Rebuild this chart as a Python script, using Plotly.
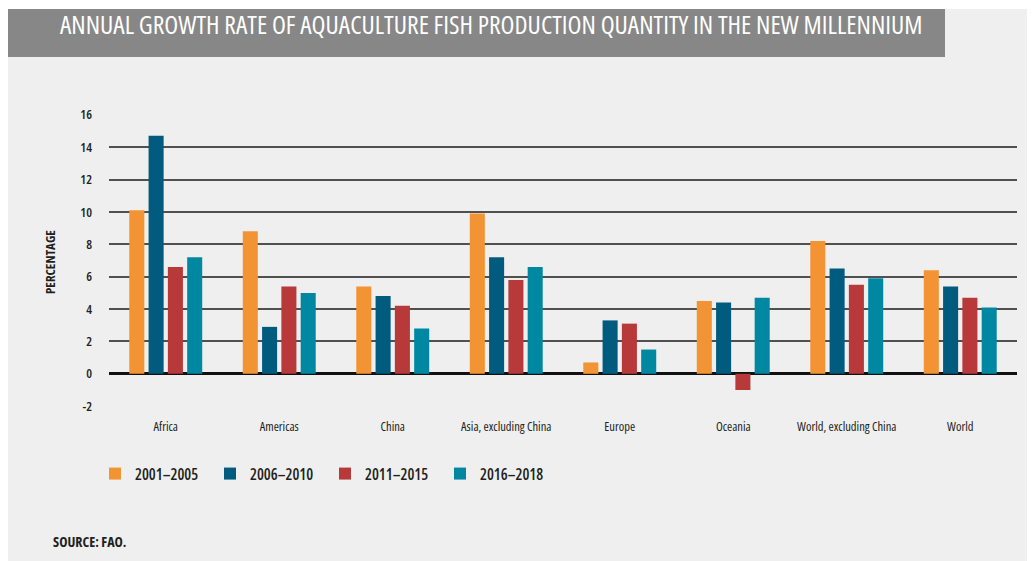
import plotly.graph_objects as go

categories = ["Africa", "Americas", "China", "Asia, excluding China", "Europe",
              "Oceania", "World, excluding China", "World"]
series_names = ["2001\u20132005", "2006\u20132010", "2011\u20132015", "2016\u20132018"]
v_2001_2005 = [10.1, 8.8, 5.4, 9.9, 0.7, 4.5, 8.2, 6.4]
v_2006_2010 = [14.7, 2.9, 4.8, 7.2, 3.3, 4.4, 6.5, 5.4]
v_2011_2015 = [6.6, 5.4, 4.2, 5.8, 3.1, -1.0, 5.5, 4.7]
v_2016_2018 = [7.2, 5.0, 2.8, 6.6, 1.5, 4.7, 5.9, 4.1]
tick_vals = [-2, 0, 2, 4, 6, 8, 10, 12, 14, 16]
tick_text = ["-2", "0", "2", "4", "6", "8", "10", "12", "14", "16"]

colors = ["#F29433", "#005B7F", "#B8393A", "#0088A3"]
series_values = [v_2001_2005, v_2006_2010, v_2011_2015, v_2016_2018]

# The page body has an 8px margin, so the figure is 8px smaller and offset.
OFF = 8
W, H = 1035 - OFF, 561 - OFF
# plot area in page pixels
PL, PR, PT, PB = 109, 1017, 114, 407
FONT = "Open Sans, DejaVu Sans Condensed, sans-serif"
INK = "#231F20"


def cond(s):
    return "<span style='font-stretch:condensed'>" + s + "</span>"


def px(x):
    return (x - PL) / (PR - PL)


def py(y):
    return (PB - y) / (PB - PT)


fig = go.Figure()
for name, vals, col in zip(series_names, series_values, colors):
    fig.add_trace(go.Bar(x=categories, y=vals, name=cond(name), marker_color=col,
                         marker_line_width=0))

fig.update_layout(
    width=W, height=H,
    margin=dict(l=PL - OFF, r=(W + OFF) - PR, t=PT - OFF, b=(H + OFF) - PB, pad=0),
    paper_bgcolor="white",
    plot_bgcolor="rgba(0,0,0,0)",
    barmode="group", bargap=0.32, bargroupgap=0.22,
    font=dict(family=FONT, color=INK, size=12),
    showlegend=True,
    legend=dict(orientation="h", x=px(95), xanchor="left", y=py(474), yanchor="middle",
                entrywidth=70, entrywidthmode="pixels",
                font=dict(size=15.5, family=FONT, color=INK, weight=600),
                bgcolor="rgba(0,0,0,0)", traceorder="normal"),
    xaxis=dict(showgrid=False, zeroline=False, showline=False, ticks="",
               tickvals=categories, ticktext=[cond(c) for c in categories],
               tickfont=dict(size=12.5, family=FONT, color=INK, weight=500),
               ticklabelstandoff=10, fixedrange=True),
    yaxis=dict(range=[-2.05, 16.05], tickvals=tick_vals, ticktext=[cond(t) for t in tick_text],
               showgrid=True, gridcolor="#505050", gridwidth=1.5,
               zeroline=True, zerolinecolor="#111111", zerolinewidth=2.6,
               showline=False, ticks="",
               tickfont=dict(size=13, family=FONT, color=INK, weight=600),
               ticklabelstandoff=16, fixedrange=True),
    shapes=[
        dict(type="rect", xref="paper", yref="paper", x0=px(6), x1=px(1040),
             y0=py(570), y1=py(9), fillcolor="#EFEFEF", line_width=0, layer="below"),
        dict(type="rect", xref="paper", yref="paper", x0=px(6), x1=px(945),
             y0=py(57), y1=py(9), fillcolor="#878787", line_width=0, layer="below"),
    ],
    annotations=[
        dict(text=cond("ANNUAL GROWTH RATE OF AQUACULTURE FISH PRODUCTION QUANTITY IN THE NEW MILLENNIUM"),
             xref="paper", yref="paper", x=px(491), y=py(24), xanchor="center", yanchor="middle",
             showarrow=False, font=dict(size=25.6, family=FONT, color="white", weight=500)),
        dict(text=cond("PERCENTAGE"), xref="paper", yref="paper", x=px(50), y=py(262),
             xanchor="center", yanchor="middle", textangle=-90, showarrow=False,
             font=dict(size=13, family=FONT, color=INK, weight=700)),
        dict(text=cond("SOURCE: FAO."), xref="paper", yref="paper", x=px(51), y=py(541),
             xanchor="left", yanchor="middle", showarrow=False,
             font=dict(size=14, family=FONT, color=INK, weight=700)),
    ],
)

fig.write_html("out.html")
